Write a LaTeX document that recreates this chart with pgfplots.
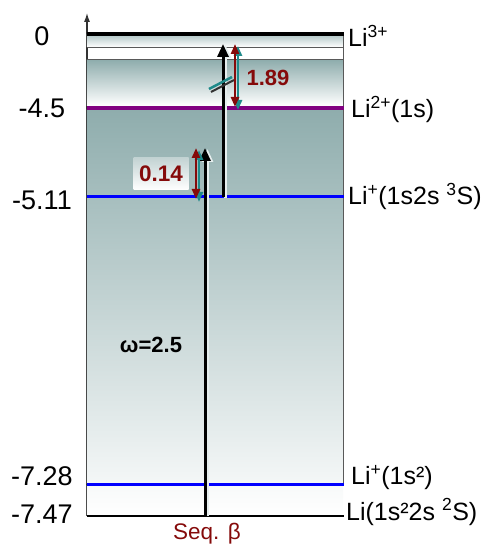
\documentclass[border=0pt]{standalone}
\usepackage{fontspec}
\setmainfont{Liberation Sans}
\usepackage{pgfplots}
\pgfplotsset{compat=1.18}
\usetikzlibrary{arrows.meta}
\definecolor{tealA}{HTML}{8FADAD}
\definecolor{bandT}{HTML}{B4C8C8}
\definecolor{lowW}{HTML}{F4F7F7}
\definecolor{dred}{HTML}{850A0A}
\definecolor{shad}{HTML}{1F8A8A}
\definecolor{purp}{HTML}{800080}
\definecolor{lite}{HTML}{E6EEEE}
\begin{document}
\begin{tikzpicture}
\begin{axis}[
  x=1pt, y=1pt,
  xmin=87, xmax=343, ymin=-516, ymax=-13,
  axis x line=none, axis y line=left,
  y axis line style={draw=black!80, line width=1.2pt, -{Latex[length=9pt,width=6pt]}},
  ytick={-36,-108.5,-200,-476,-514},
  yticklabels={0,-4.5,-5.11,-7.28,-7.47},
  major tick length=0pt,
  yticklabel style={anchor=center, xshift=-45pt, font=\fontsize{27}{31}\selectfont},
  clip=false,
  scale only axis,
]
% background bands
\addplot[draw=none, top color=bandT, bottom color=white] coordinates {(87,-35) (343,-35) (343,-47) (87,-47)} -- cycle;
\addplot[draw=none, top color=tealA, bottom color=white] coordinates {(87,-60) (343,-60) (343,-106) (87,-106)} -- cycle;
\addplot[draw=none, top color=tealA, bottom color=lowW] coordinates {(87,-110) (343,-110) (343,-484) (87,-484)} -- cycle;
\addplot[draw=none, top color=lowW!70!white, bottom color=white] coordinates {(87,-486) (343,-486) (343,-516) (87,-516)} -- cycle;
% frame lines
\addplot[draw=gray!70!black, line width=1pt] coordinates {(87,-48) (343,-48)};
\addplot[draw=gray!70!black, line width=1pt] coordinates {(87,-60) (343,-60)};
\addplot[draw=gray!70!black, line width=1pt] coordinates {(343,-34) (343,-485)};
% levels
\addplot[draw=black, line width=3.5pt] coordinates {(87,-34) (344,-34)};
\addplot[draw=purp, line width=4pt] coordinates {(87,-108) (344,-108)};
\addplot[draw=blue, line width=3pt] coordinates {(87,-197) (344,-197)};
\addplot[draw=blue, line width=3pt] coordinates {(87,-485) (344,-485)};
\addplot[draw=black, line width=1.3pt] coordinates {(87,-516) (344,-516)};
% omega arrow
\addplot[draw=lite, line width=3pt, -{Triangle[length=13pt,width=11pt]}] coordinates {(207.5,-516) (207.5,-149)};
\addplot[draw=black, line width=3pt, -{Triangle[length=13pt,width=11pt]}] coordinates {(205,-516) (205,-148)};
% second black arrow
\addplot[draw=lite, line width=3pt, -{Triangle[length=13pt,width=11pt]}] coordinates {(225.5,-198) (225.5,-45)};
\addplot[draw=black, line width=3pt, -{Triangle[length=13pt,width=11pt]}] coordinates {(223,-197) (223,-44)};
% break mark
\addplot[draw=shad, line width=2.5pt] coordinates {(209,-89) (232,-77)};
\addplot[draw=black!80, line width=2pt] coordinates {(211,-92) (234,-80)};
% red double arrows
\addplot[draw=shad, line width=2.5pt, {Triangle[length=10pt,width=8pt]}-{Triangle[length=10pt,width=8pt]}] coordinates {(238,-46) (238,-110)};
\addplot[draw=dred, line width=2.5pt, {Triangle[length=10pt,width=8pt]}-{Triangle[length=10pt,width=8pt]}] coordinates {(235,-44) (235,-107)};
\addplot[draw=shad, line width=2.5pt, {Triangle[length=10pt,width=8pt]}-{Triangle[length=10pt,width=8pt]}] coordinates {(199,-150) (199,-202)};
\addplot[draw=dred, line width=2.5pt, {Triangle[length=10pt,width=8pt]}-{Triangle[length=10pt,width=8pt]}] coordinates {(196,-148) (196,-199)};
% labels
\node[text=dred, font=\fontsize{22}{26}\selectfont\bfseries] at (axis cs:268,-78) {1.89};
\node[top color=bandT!80!white, bottom color=white, minimum width=55pt, minimum height=32pt, inner sep=0pt, text=dred, font=\fontsize{22.5}{26}\selectfont\bfseries] at (axis cs:161,-174) {0.14};
\node[font=\fontsize{22}{26}\selectfont\bfseries] at (axis cs:151,-345) {ω=2.5};
\node[text=dred, font=\fontsize{22.5}{26}\selectfont] at (axis cs:207,-534) {Seq. β};
\begin{scope}[every node/.style={anchor=base west, inner sep=0pt, font=\fontsize{25}{29}\selectfont}]
\node at (axis cs:348,-47) {Li\textsuperscript{3+}};
\node at (axis cs:351,-118) {Li\textsuperscript{2+}(1s)};
\node at (axis cs:348,-205) {Li\textsuperscript{+}(1s2s \textsuperscript{3}S)};
\node at (axis cs:351,-485) {Li\textsuperscript{+}(1s²)};
\node at (axis cs:346,-520) {Li(1s²2s \textsuperscript{2}S)};
\end{scope}
\coordinate (bbA) at (axis cs:0,0);
\coordinate (bbB) at (axis cs:483,-545);
\end{axis}
\pgfresetboundingbox
\path (bbA) rectangle (bbB);
\end{tikzpicture}
\end{document}
